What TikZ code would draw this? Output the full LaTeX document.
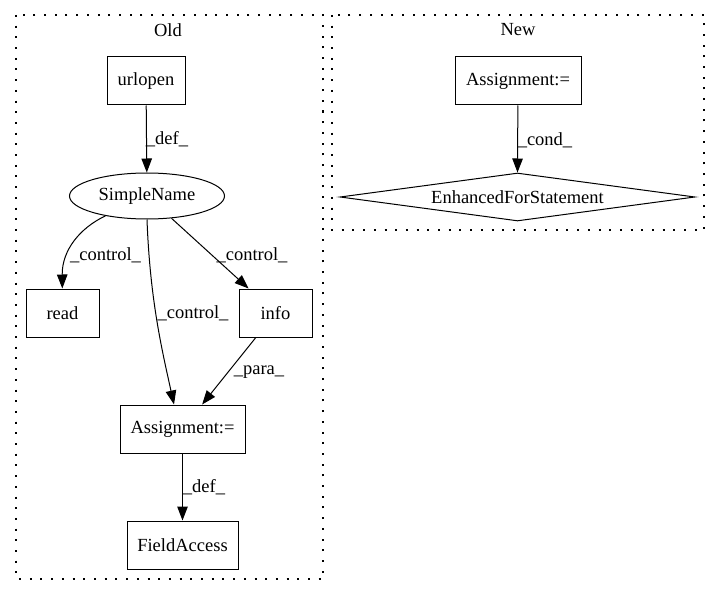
\documentclass[tikz,border=0pt]{standalone}
\usepackage{fontspec}
\setmainfont{Liberation Serif}
\usetikzlibrary{shapes.geometric,arrows.meta,calc}
\begin{document}
\begin{tikzpicture}[x=1pt,y=-1pt,
  font=\fontsize{18.5}{22}\selectfont,
  box/.style={draw,rectangle,line width=1pt,minimum height=48pt,inner sep=0pt},
  ell/.style={draw,ellipse,line width=1pt,minimum width=155pt,minimum height=46pt,inner sep=0pt},
  dia/.style={draw,diamond,line width=1pt,shape aspect=7.4,minimum width=355pt,minimum height=48pt,inner sep=0pt},
  edge/.style={draw,line width=1pt,-{Triangle[length=14pt,width=10.5pt]}},
  lbl/.style={inner sep=0pt},
  cluster/.style={draw,line width=1.2pt,dash pattern=on 2pt off 8.7pt}
]
\useasboundingbox (0,0) rectangle (720,596);
% clusters
\draw[cluster] (16,15) rectangle (323,579);
\draw[cluster] (332,15) rectangle (704,230);
\node[lbl] (oldlbl) at (168,30) {Old};
\node[lbl] (newlbl) at (518,30) {New};
% old nodes
\node[box,minimum width=78pt] (u) at (146,81) {urlopen};
\node[ell] (sn) at (147,196) {SimpleName};
\node[box,minimum width=73pt] (read) at (62.5,313) {read};
\node[box,minimum width=73pt] (info) at (275.5,313) {info};
\node[box,minimum width=125pt] (a1) at (182.5,429) {Assignment:=};
\node[box,minimum width=111pt] (fa) at (182.5,545) {FieldAccess};
% new nodes
\node[box,minimum width=126pt] (a2) at (518,81) {Assignment:=};
\node[dia] (efs) at (517.5,197) {EnhancedForStatement};
% edges
\draw[edge] (u) -- (sn);
\node[lbl] (l1) at (167,139) {\_def\_};
\draw[edge] (sn) .. controls (80,228) and (62,250) .. (read);
\node[lbl] (l2) at (105.5,255) {\_control\_};
\draw[edge] (sn.south) .. controls (150,300) and (162,350) .. ($(a1.north)+(-8.5,0)$);
\node[lbl] (l3) at (193,313) {\_control\_};
\draw[edge] (sn) -- (info);
\node[lbl] (l4) at (252,255) {\_control\_};
\draw[edge] (info) -- (a1);
\node[lbl] (l5) at (259,372) {\_para\_};
\draw[edge] (a1) -- (fa);
\node[lbl] (l6) at (204,487) {\_def\_};
\draw[edge] (a2) -- (efs.north);
\node[lbl] (l7) at (545,140) {\_cond\_};
\end{tikzpicture}
\end{document}
